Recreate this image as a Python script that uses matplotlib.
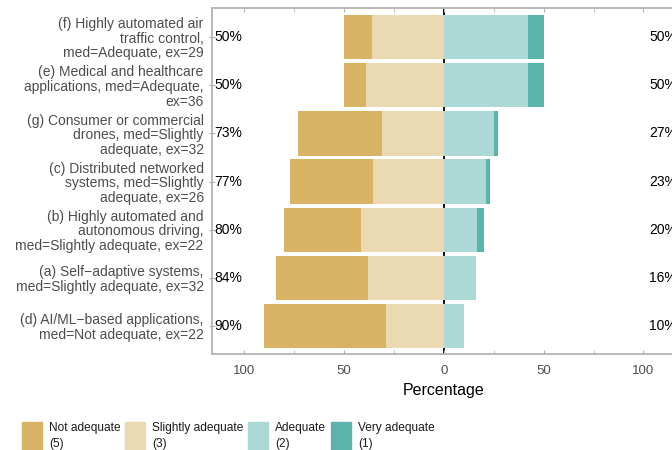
import matplotlib
matplotlib.use('Agg')
import matplotlib.pyplot as plt
from matplotlib.patches import Rectangle
from matplotlib.ticker import MultipleLocator

plt.rcParams['font.family'] = ['Liberation Sans', 'DejaVu Sans']

# rows from top to bottom
labels = ['(f) Highly automated air\ntraffic control,\nmed=Adequate, ex=29',
          '(e) Medical and healthcare\napplications, med=Adequate,\nex=36',
          '(g) Consumer or commercial\ndrones, med=Slightly\nadequate, ex=32',
          '(c) Distributed networked\nsystems, med=Slightly\nadequate, ex=26',
          '(b) Highly automated and\nautonomous driving,\nmed=Slightly adequate, ex=22',
          '(a) Self\u2212adaptive systems,\nmed=Slightly adequate, ex=32',
          '(d) AI/ML\u2212based applications,\nmed=Not adequate, ex=22']
not_adequate = [14, 11, 42, 41.5, 38.5, 46, 61]
slightly_adequate = [36, 39, 31, 35.5, 41.5, 38, 29]
adequate = [42, 42.2, 25, 21, 16.5, 16, 10]
very_adequate = [8, 7.8, 2, 2, 3.5, 0, 0]

levels = ['Not adequate\n(5)', 'Slightly adequate\n(3)', 'Adequate\n(2)', 'Very adequate\n(1)']
colors = ['#D8B365', '#EBD9B2', '#ACD8D5', '#5AB4AC']

fig = plt.figure(figsize=(6.72, 4.5), dpi=100)
ax = fig.add_axes([212 / 672, 96 / 450, 463.4 / 672, 346.5 / 450])

n = len(labels)
y = [n - 1 - i for i in range(n)]
h = 0.92

neg_left = [-(a + b) for a, b in zip(not_adequate, slightly_adequate)]
ax.axvline(0, color='black', lw=1.3, zorder=0)
ax.barh(y, not_adequate, left=neg_left, height=h, color=colors[0], zorder=2)
ax.barh(y, slightly_adequate, left=[-s for s in slightly_adequate], height=h, color=colors[1], zorder=2)
ax.barh(y, adequate, left=0, height=h, color=colors[2], zorder=2)
ax.barh(y, very_adequate, left=adequate, height=h, color=colors[3], zorder=2)

for yi, a, b, c, d in zip(y, not_adequate, slightly_adequate, adequate, very_adequate):
    ax.text(-115, yi, '%d%%' % round(a + b), ha='left', va='center', fontsize=10, color='black')
    ax.text(103, yi, '%d%%' % round(c + d), ha='left', va='center', fontsize=10, color='black')

ax.set_xlim(-116, 116)
ax.set_ylim(-0.583, n - 1 + 0.615)
ax.set_yticks(y)
ax.set_yticklabels(labels, fontsize=10, color='#4D4D4D', linespacing=1.05)
ax.set_xticks([-100, -50, 0, 50, 100])
ax.set_xticklabels(['100', '50', '0', '50', '100'])
ax.xaxis.set_minor_locator(MultipleLocator(25))
ax.tick_params(axis='x', which='both', direction='in', length=3, color='#B3B3B3',
               top=True, labelsize=9.5, labelcolor='#4D4D4D', pad=8)
ax.tick_params(axis='y', direction='inout', length=4, color='#B3B3B3', pad=4)
ax.set_xlabel('Percentage', fontsize=11.5, labelpad=4)

for side in ['left', 'top', 'bottom', 'right']:
    ax.spines[side].set_color('#B3B3B3')
    ax.spines[side].set_linewidth(1.3)

# legend drawn along the bottom
lx = [22, 125, 248, 331]
for x0, lab, col in zip(lx, levels, colors):
    fig.add_artist(Rectangle((x0 / 672, 0), 20 / 672, 28 / 450, color=col,
                             transform=fig.transFigure))
    fig.text((x0 + 27) / 672, 1 - 422 / 450, lab, ha='left', va='top', fontsize=8.6,
             color='#1A1A1A', linespacing=1.45)

plt.savefig('out.png', dpi=100)
